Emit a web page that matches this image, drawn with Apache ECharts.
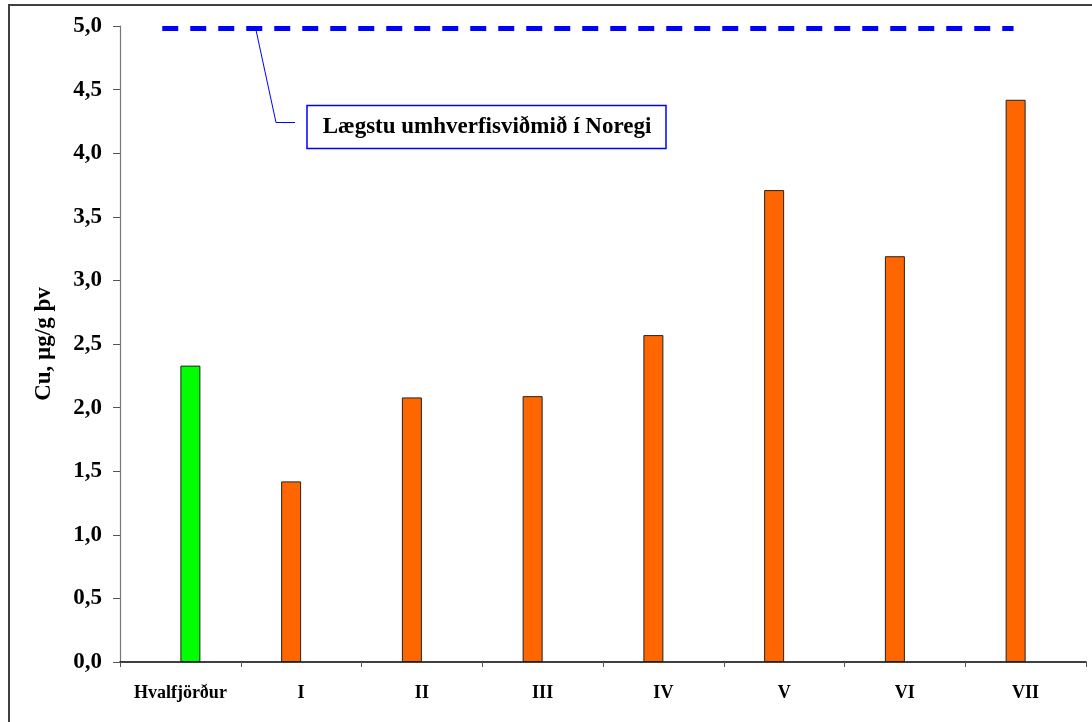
<!DOCTYPE html>
<html>
<head>
<meta charset="utf-8">
<script src="https://cdn.jsdelivr.net/npm/echarts@6/dist/echarts.min.js"></script>
<style>
html,body{margin:0;padding:0;background:#fff;}
#c{width:1092px;height:722px;}
</style>
</head>
<body>
<div id="c"></div>
<script>
const categories = ['Hvalfjörður', 'I', 'II', 'III', 'IV', 'V', 'VI', 'VII'];
const referenceValues = [2.33, null, null, null, null, null, null, null];
const stationValues = [null, 1.42, 2.08, 2.09, 2.57, 3.71, 3.19, 4.42];
const limitLine = [[0.35, 4.98], [7.4, 4.98]];
const yTicks = { min: 0, max: 5, interval: 0.5 };
const yName = 'Cu, µg/g þv';
const annotationText = 'Lægstu umhverfisviðmið í Noregi';

const FONT = '"Liberation Serif", "Times New Roman", serif';
const chart = echarts.init(document.getElementById('c'), null, { renderer: 'canvas' });

chart.setOption({
  backgroundColor: '#ffffff',
  animation: false,
  grid: { left: 120, right: 6, top: 26, bottom: 60, containLabel: false },
  xAxis: [
    {
      type: 'category',
      data: categories,
      boundaryGap: true,
      axisLine: { lineStyle: { color: '#000', width: 1.5 } },
      axisTick: { show: true, inside: false, length: 5, lineStyle: { color: '#555' } },
      axisLabel: { color: '#000', fontFamily: FONT, fontWeight: 'bold', fontSize: 18, margin: 22, interval: 0 }
    },
    {
      type: 'value', min: 0, max: 8, show: false
    }
  ],
  yAxis: {
    type: 'value',
    min: yTicks.min, max: yTicks.max, interval: yTicks.interval,
    name: yName,
    nameLocation: 'middle',
    nameGap: 64,
    nameRotate: 90,
    nameTextStyle: { color: '#000', fontFamily: FONT, fontWeight: 'bold', fontSize: 23 },
    axisLine: { show: true, lineStyle: { color: '#777', width: 1.2 } },
    axisTick: { show: true, length: 7, lineStyle: { color: '#555' } },
    splitLine: { show: false },
    axisLabel: {
      color: '#000', fontFamily: FONT, fontWeight: 'bold', fontSize: 23, margin: 18,
      formatter: v => v.toFixed(1).replace('.', ',')
    }
  },
  series: [
    {
      type: 'bar', name: 'stations', data: stationValues,
      barWidth: 20, barGap: '0%',
      itemStyle: { color: '#FF6600', borderColor: '#222', borderWidth: 1 }
    },
    {
      type: 'bar', name: 'reference', data: referenceValues,
      barWidth: 20, barGap: '0%',
      itemStyle: { color: '#00FF00', borderColor: '#222', borderWidth: 1 }
    },
    {
      type: 'line', name: 'limit', xAxisIndex: 1, data: limitLine,
      symbol: 'none',
      lineStyle: { color: '#0000FF', width: 5, type: [16, 12] },
      z: 5
    }
  ],
  graphic: [
    {
      type: 'rect', shape: { x: 9, y: 5, width: 1200, height: 900 },
      style: { fill: 'none', stroke: '#404040', lineWidth: 2 }, silent: true, z: 100
    },
    {
      type: 'polyline', shape: { points: [[256, 30], [276, 122.5], [295, 122.5]] },
      style: { fill: 'none', stroke: '#0000FF', lineWidth: 1 }, z: 50
    },
    {
      type: 'rect', shape: { x: 307, y: 105.5, width: 359, height: 43 },
      style: { fill: '#fff', stroke: '#0000FF', lineWidth: 1.5 }, z: 50
    },
    {
      type: 'text', x: 487, y: 127,
      style: {
        text: annotationText, fill: '#000', font: 'bold 23px ' + FONT,
        textAlign: 'center', textVerticalAlign: 'middle'
      }, z: 51
    }
  ]
});
</script>
</body>
</html>
